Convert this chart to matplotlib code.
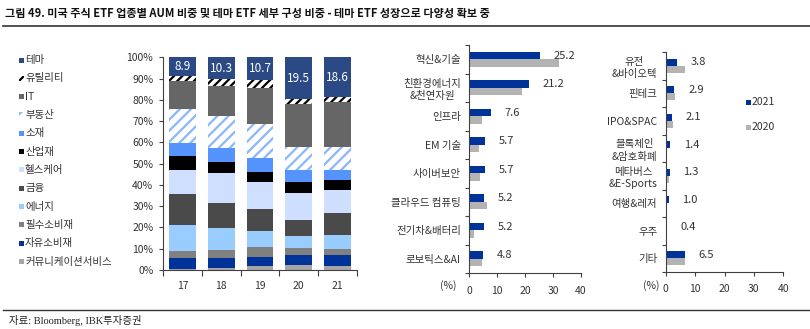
import numpy as np
import matplotlib
matplotlib.use("Agg")
import matplotlib.pyplot as plt
from matplotlib.patches import Rectangle

plt.rcParams['font.family'] = ['Noto Sans CJK KR', 'DejaVu Sans']
plt.rcParams['hatch.linewidth'] = 1.6

# 업종별 AUM 비중 (%)
years = ['17', '18', '19', '20', '21']
sectors = ['커뮤니케이션서비스', '자유소비재', '필수소비재', '에너지', '금융', '헬스케어',
           '산업재', '소재', '부동산', 'IT', '유틸리티', '테마']
comm = [0.3, 1.0, 1.9, 2.4, 1.9]
disc = [5.3, 4.6, 4.4, 4.8, 5.3]
staples = [3.2, 3.8, 4.7, 3.2, 2.8]
energy = [12.2, 10.5, 7.3, 5.6, 6.6]
fin = [14.6, 11.4, 10.2, 7.5, 10.4]
health = [11.4, 14.2, 12.7, 12.8, 10.5]
indus = [6.6, 5.4, 5.0, 5.2, 4.7]
mater = [6.3, 6.6, 6.6, 5.5, 4.8]
reit = [15.6, 14.9, 15.9, 10.7, 11.0]
it = [13.4, 14.3, 16.7, 20.2, 20.8]
util = [2.2, 3.0, 3.9, 2.6, 2.6]
theme = [8.9, 10.3, 10.7, 19.5, 18.6]

# 테마 ETF 세부 구성 (%)
cats_a = ['혁신&기술', '친환경에너지\n&천연자원', '인프라', 'EM 기술', '사이버보안',
          '클라우드 컴퓨팅', '전기차&배터리', '로보틱스&AI']
a_2021 = [25.2, 21.2, 7.6, 5.7, 5.7, 5.2, 5.2, 4.8]
a_2020 = [32.2, 18.7, 4.5, 3.3, 3.8, 6.3, 1.8, 4.7]

cats_b = ['유전\n&바이오텍', '핀테크', 'IPO&SPAC', '블록체인\n&암호화폐', '메타버스\n&E-Sports',
          '여행&레저', '우주', '기타']
b_2021 = [3.8, 2.9, 2.1, 1.4, 1.3, 1.0, 0.4, 6.5]
b_2020 = [6.7, 3.1, 2.6, 0.1, 1.1, 0.5, 0.1, 6.7]

W, H = 810, 329
fig = plt.figure(figsize=(W / 100, H / 100), dpi=100)


def px_axes(x0, x1, ytop, ybot):
    return fig.add_axes([x0 / W, 1 - ybot / H, (x1 - x0) / W, (ybot - ytop) / H])


txt_col = '#333333'
spine_col = '#404040'

# 제목, 구분선, 출처
fig.text(5 / W, 1 - 14 / H, '그림 49. 미국 주식 ETF 업종별 AUM 비중 및 테마 ETF 세부 구성 비중 - 테마 ETF 성장으로 다양성 확보 중',
         fontsize=8, fontweight='bold', va='center', ha='left', color='#111111')
fig.add_artist(plt.Line2D([3 / W, 1], [1 - 26 / H, 1 - 26 / H], color='#333333', lw=1.2))
fig.add_artist(plt.Line2D([3 / W, 1], [1 - 310 / H, 1 - 310 / H], color='#333333', lw=1.0))
fig.text(9 / W, 1 - 320 / H, '자료: Bloomberg, IBK투자증권', fontsize=7.5, va='center', ha='left',
         family=['Liberation Serif', 'Noto Sans CJK KR'], color='#222222')

# ---- 누적 막대 ----
ax1 = px_axes(163, 357, 57.3, 270)
series = [comm, disc, staples, energy, fin, health, indus, mater, reit, it, util, theme]
colors = ['#a6a6a6', '#003399', '#808080', '#99ccff', '#4a4a4a', '#cfdfff',
          '#000000', '#5593ff', '#ffffff', '#666666', '#ffffff', '#2b4a85']
hatches = [None] * 8 + ['///', None, '////', None]
edges = ['none'] * 8 + ['#8ab6fb', 'none', '#000000', 'none']
x = np.arange(len(years))
bottom = np.zeros(len(years))
for vals, c, h, e in zip(series, colors, hatches, edges):
    ax1.bar(x, vals, bottom=bottom, width=0.69, color=c, hatch=h, edgecolor=e, linewidth=0)
    bottom += np.array(vals)
theme_bottom = bottom - np.array(theme)
for xi, tb, v in zip(x, theme_bottom, theme):
    ax1.text(xi, tb + v / 2, f'{v:.1f}', color='white', ha='center', va='center', fontsize=8.5)

ax1.set_xlim(-0.5, 4.5)
ax1.set_ylim(0, 100)
ax1.set_yticks(np.arange(0, 101, 10))
ax1.set_yticklabels([f'{v}%' for v in range(0, 101, 10)])
ax1.set_xticks(np.arange(-0.5, 5, 1))
ax1.set_xticklabels([])
ax1.set_xticks(x, minor=True)
ax1.set_xticklabels(years, minor=True)
ax1.tick_params(axis='x', which='major', length=4, color=spine_col)
ax1.tick_params(axis='x', which='minor', length=0, pad=8, labelsize=7.5, labelcolor=txt_col)
ax1.tick_params(axis='y', length=3, pad=4, labelsize=7.5, labelcolor=txt_col, color=spine_col)
for s in ['top', 'right']:
    ax1.spines[s].set_visible(False)
for s in ['left', 'bottom']:
    ax1.spines[s].set_color(spine_col)

# 범례 (위에서부터 테마 → 커뮤니케이션서비스)
for i, k in enumerate(range(len(sectors) - 1, -1, -1)):
    yc = 60 + i * 18.33
    fig.add_artist(Rectangle((19 / W, 1 - (yc + 2.5) / H), 5 / W, 5 / H,
                             facecolor=colors[k], hatch=hatches[k],
                             edgecolor=edges[k], linewidth=0))
    fig.text(25 / W, 1 - yc / H, sectors[k], fontsize=7.5, va='center', ha='left', color=txt_col)


def hbar_panel(ax, cats, v21, v20):
    y = np.arange(len(cats))
    ax.barh(y - 0.128, v21, height=0.256, color='#003399')
    ax.barh(y + 0.128, v20, height=0.256, color='#b3b3b3')
    for yi, v in zip(y, v21):
        ax.annotate(f'{v:.1f}', (v, yi - 0.13), xytext=(10, 0), textcoords='offset points',
                    va='center', ha='left', fontsize=8, color=txt_col)
    ax.set_xlim(0, 40)
    ax.set_ylim(len(cats) - 0.5, -0.5)
    ax.set_xticks([0, 10, 20, 30, 40])
    ax.set_yticks(np.arange(-0.5, len(cats), 1))
    ax.set_yticklabels([])
    ax.set_yticks(y, minor=True)
    ax.set_yticklabels(cats, minor=True)
    ax.tick_params(axis='y', which='major', length=3, color=spine_col)
    ax.tick_params(axis='y', which='minor', length=0, pad=6, labelsize=7.5, labelcolor=txt_col)
    ax.tick_params(axis='x', length=3, pad=6, labelsize=7.5, labelcolor=txt_col, color=spine_col)
    for lab in ax.get_yticklabels(minor=True):
        lab.set_multialignment('center')
        lab.set_linespacing(1.3)
    for s in ['top', 'right']:
        ax.spines[s].set_visible(False)
    for s in ['left', 'bottom']:
        ax.spines[s].set_color(spine_col)


ax2 = px_axes(469.3, 581, 45, 273)
hbar_panel(ax2, cats_a, a_2021, a_2020)
fig.text(448 / W, 1 - 286 / H, '(%)', fontsize=7.5, ha='center', va='center', color=txt_col)

ax3 = px_axes(665.7, 783.3, 52, 272)
hbar_panel(ax3, cats_b, b_2021, b_2020)
fig.text(651 / W, 1 - 286 / H, '(%)', fontsize=7.5, ha='center', va='center', color=txt_col)

# 연도 범례
for yc, c, lab in [(102, '#003399', '2021'), (127, '#b3b3b3', '2020')]:
    fig.add_artist(Rectangle((746 / W, 1 - (yc + 2.5) / H), 5 / W, 5 / H, facecolor=c, linewidth=0))
    fig.text(752 / W, 1 - yc / H, lab, fontsize=7.5, va='center', ha='left', color=txt_col)

fig.savefig('out.png', dpi=100)
